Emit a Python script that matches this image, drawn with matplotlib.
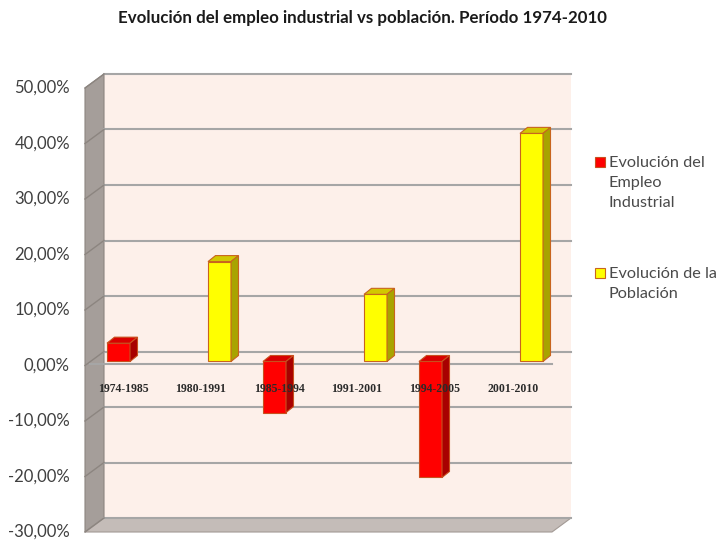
import matplotlib
matplotlib.use("Agg")
import matplotlib.pyplot as plt
from matplotlib.patches import Polygon, Rectangle

# ===== Datos =====
periodos = ["1974-1985", "1980-1991", "1985-1994", "1991-2001", "1994-2005", "2001-2010"]
empleo_pos = [0, 2, 4]
empleo = [3.3, -9.2, -20.9]
poblacion_pos = [1, 3, 5]
poblacion = [18.0, 12.1, 41.1]
ticks = [50, 40, 30, 20, 10, 0, -10, -20, -30]

TITULO = "Evolución del empleo industrial vs población. Período 1974-2010"
LEYENDA = ["Evolución del\nEmpleo\nIndustrial", "Evolución de la\nPoblación"]

# ===== Estilo (pseudo 3D) =====
W, H = 718, 540
PX_X = 78.0          # px por categoria
PX_Y = 5.55          # px por 1 %
BAR_W = 0.295        # ancho de barra (unidades de categoria)
BASE = -1.8          # base de las barras (frente)
DX, DY = 7.5 / PX_X, 6 / PX_Y          # profundidad de barra
FX, FY = -19 / PX_X, -14 / PX_Y        # desplazamiento al plano frontal

WALL = "#fdf0ea"
SIDE = "#a59e9a"
FLOOR = "#c4bcb8"
GRID = "#a6a6a6"

RED = ("#ff0000", "#d80000", "#a80000", "#c8501e")
YEL = ("#ffff00", "#d2c800", "#a8a400", "#c8641e")


def px(x, y):
    return x / W, 1 - y / H


def draw_bar(ax, x0, v, cols):
    front, top, side, edge = cols
    ax.bar(x0, v, width=BAR_W, bottom=BASE, align="edge", color=front,
           edgecolor=edge, linewidth=0.8, zorder=4)
    yt = BASE + max(v, 0)
    yb = BASE + min(v, 0)
    ax.add_patch(Polygon([(x0, yt), (x0 + BAR_W, yt), (x0 + BAR_W + DX, yt + DY),
                          (x0 + DX, yt + DY)], closed=True, facecolor=top,
                         edgecolor=edge, linewidth=0.8, zorder=4))
    ax.add_patch(Polygon([(x0 + BAR_W, yb), (x0 + BAR_W, yt), (x0 + BAR_W + DX, yt + DY),
                          (x0 + BAR_W + DX, yb + DY)], closed=True, facecolor=side,
                         edgecolor=edge, linewidth=0.8, zorder=4))


fig = plt.figure(figsize=(7.18, 5.40), dpi=100)
fig.patch.set_facecolor("white")

left, right, top, bottom = 104, 571, 74, 518
ax = fig.add_axes([left / W, 1 - bottom / H, (right - left) / W, (bottom - top) / H])
x_min = (left - 130) / PX_X
x_max = (right - 130) / PX_X
ax.set_xlim(x_min, x_max)
ax.set_ylim(-30, 50)
ax.set_facecolor(WALL)
for s in ax.spines.values():
    s.set_visible(False)
ax.set_xticks([])
ax.set_yticks([])

# pared lateral y suelo
ax.add_patch(Polygon([(x_min + FX, 50 + FY), (x_min, 50), (x_min, -30), (x_min + FX, -30 + FY)],
                     closed=True, facecolor=SIDE, edgecolor="#8c8580", linewidth=0.8,
                     clip_on=False, zorder=1))
ax.add_patch(Polygon([(x_min + FX, -30 + FY), (x_min, -30), (x_max, -30), (x_max + FX, -30 + FY)],
                     closed=True, facecolor=FLOOR, edgecolor="#a39a95", linewidth=0.8,
                     clip_on=False, zorder=1))

# rejilla
for t in ticks:
    ax.plot([x_min, x_max], [t, t], color=GRID, linewidth=1.5, zorder=2, clip_on=False)
    ax.plot([x_min + FX, x_min], [t + FY, t], color="#8c8580", linewidth=1.0,
            zorder=2, clip_on=False)
    ax.text(x_min + FX - 15 / PX_X, t + FY, f"{t:.2f}".replace(".", ",") + "%",
            ha="right", va="center", fontsize=12, family="Lato", color="#3f3f3f")

# linea frontal del cero
ax.plot([x_min + FX + 5 / PX_X, x_max + FX], [FY + 0.3, FY + 0.3], color=GRID,
        linewidth=1.5, zorder=3, clip_on=False)

for k, v in zip(empleo_pos, empleo):
    draw_bar(ax, k - BAR_W, v, RED)
for k, v in zip(poblacion_pos, poblacion):
    draw_bar(ax, k, v, YEL)

for k, lab in enumerate(periodos):
    ax.text(k - 0.09, -6.67, lab, ha="center", va="center", fontsize=8.5,
            family="Liberation Serif", weight="bold", color="#2a2a2a", zorder=10)

fig.text(*px(363, 18), TITULO, ha="center", va="center", fontsize=12.2,
         weight="bold", family="Lato", color="#1a1a1a")

# leyenda
for (cy, cols, lab) in [(162, RED, LEYENDA[0]), (273, YEL, LEYENDA[1])]:
    x0, y0 = px(595, cy + 5)
    fig.patches.append(Rectangle((x0, y0), 10 / W, 10 / H, transform=fig.transFigure,
                                 facecolor=cols[0], edgecolor=cols[3], linewidth=0.8))
    fig.text(*px(609, cy - 6), lab, ha="left", va="top", fontsize=11.7,
             family="Lato", color="#4a4a4a", linespacing=1.55)

fig.savefig("out.png", dpi=100)
